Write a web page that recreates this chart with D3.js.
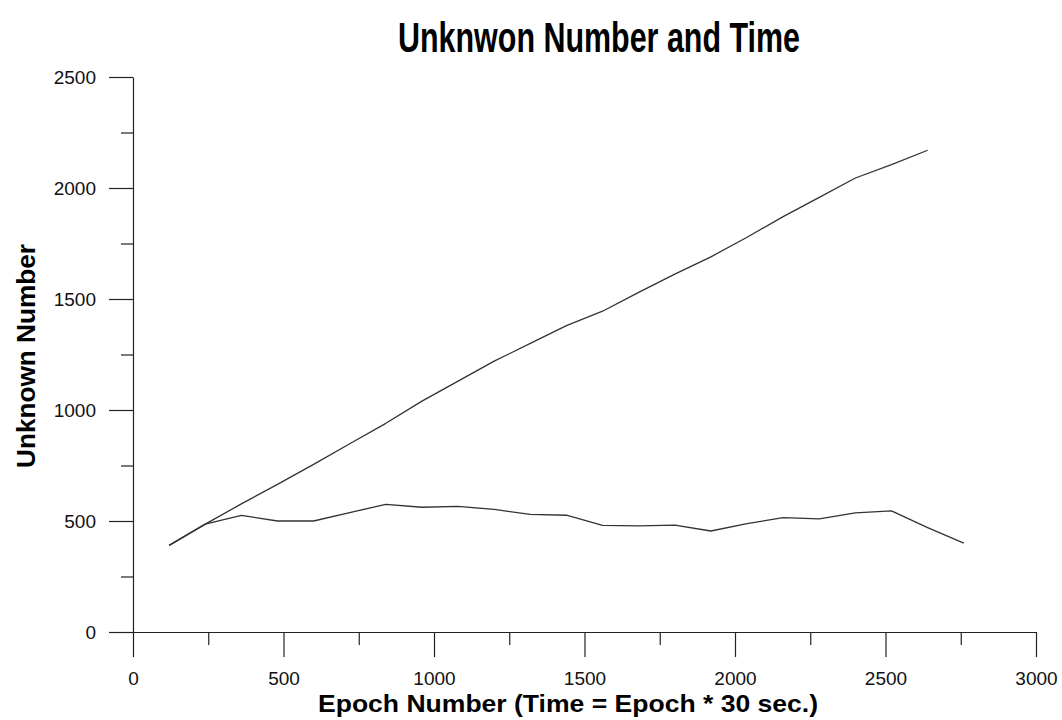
<!DOCTYPE html>
<html>
<head>
<meta charset="utf-8">
<script src="https://cdn.jsdelivr.net/npm/d3@7"></script>
<style>
  body { margin: 0; background: #fff; }
  svg { display: block; font-family: "Liberation Sans", Arial, sans-serif; }
</style>
</head>
<body>
<div id="chart"></div>
<script>
//Unknown number vs epoch, two series sampled every 120 epochs

var epochs = [120, 240, 360, 480, 600, 720, 840, 960, 1080, 1200, 1320, 1440,
  1560, 1680, 1800, 1920, 2040, 2160, 2280, 2400, 2520, 2640, 2760];

//the climbing series stops at 2640
var cumulative = [390, 486, 577, 665, 755, 848, 940, 1040, 1130, 1220, 1300, 1380,
  1445, 1530, 1612, 1690, 1778, 1871, 1958, 2045, 2105, 2170];

var current = [390, 486, 525, 500, 500, 538, 575, 562, 566, 552, 530, 526,
  480, 478, 481, 455, 488, 515, 510, 537, 546, 470, 400];

var xMajor = [0, 500, 1000, 1500, 2000, 2500, 3000];
var xMinor = [250, 750, 1250, 1750, 2250, 2750];
var yMajor = [0, 500, 1000, 1500, 2000, 2500];
var yMinor = [250, 750, 1250, 1750, 2250];

var width = 1062;
var height = 720;

var svg = d3.select("div#chart")
  .append("svg")
  .attr("width", width)
  .attr("height", height);

var x = d3.scaleLinear().domain([0, 3000]).range([133, 1036]);
var y = d3.scaleLinear().domain([0, 2500]).range([632, 77]);

//minor ticks first, no labels
svg.append("g")
  .attr("transform", "translate(0," + y(0) + ")")
  .call(d3.axisBottom(x).tickValues(xMinor).tickSize(13).tickSizeOuter(0).tickFormat(""))
  .call(g => g.select(".domain").remove());

svg.append("g")
  .attr("transform", "translate(" + x(0) + ",0)")
  .call(d3.axisLeft(y).tickValues(yMinor).tickSize(12).tickSizeOuter(0).tickFormat(""))
  .call(g => g.select(".domain").remove());

//major ticks and domain lines
svg.append("g")
  .attr("transform", "translate(0," + y(0) + ")")
  .call(d3.axisBottom(x).tickValues(xMajor).tickSize(25).tickSizeOuter(0)
    .tickPadding(15).tickFormat(d3.format("d")));

svg.append("g")
  .attr("transform", "translate(" + x(0) + ",0)")
  .call(d3.axisLeft(y).tickValues(yMajor).tickSize(24).tickSizeOuter(0)
    .tickPadding(13).tickFormat(d3.format("d")));

svg.selectAll(".tick line, .domain")
  .attr("stroke", "#222")
  .attr("stroke-width", 1.2);

svg.selectAll(".tick text")
  .attr("fill", "#111")
  .style("font-size", "19px")
  .style("font-family", "'Liberation Sans', Arial, sans-serif");

//the two series
var line = d3.line()
  .x(d => x(d[0]))
  .y(d => y(d[1]));

var seriesData = [
  cumulative.map((v, i) => [epochs[i], v]),
  current.map((v, i) => [epochs[i], v])
];

svg.append("g")
  .selectAll("path")
  .data(seriesData)
  .enter().append("path")
    .attr("d", line)
    .attr("fill", "none")
    .attr("stroke", "#333")
    .attr("stroke-width", 1.3)
    .attr("stroke-linejoin", "round");

//titles
svg.append("text")
  .attr("x", 599)
  .attr("y", 52)
  .attr("text-anchor", "middle")
  .attr("textLength", 402)
  .attr("lengthAdjust", "spacingAndGlyphs")
  .style("font-family", "'Liberation Sans Narrow', 'Arial Narrow', 'Liberation Sans', Arial, sans-serif")
  .style("font-weight", "bold")
  .style("font-size", "43px")
  .text("Unknwon Number and Time");

svg.append("text")
  .attr("x", 568)
  .attr("y", 712)
  .attr("text-anchor", "middle")
  .attr("textLength", 500)
  .attr("lengthAdjust", "spacingAndGlyphs")
  .style("font-weight", "bold")
  .style("font-size", "24px")
  .text("Epoch Number (Time = Epoch * 30 sec.)");

svg.append("text")
  .attr("transform", "translate(35,356) rotate(-90)")
  .attr("text-anchor", "middle")
  .attr("textLength", 224)
  .attr("lengthAdjust", "spacingAndGlyphs")
  .style("font-weight", "bold")
  .style("font-size", "25px")
  .text("Unknown Number");
</script>
</body>
</html>
